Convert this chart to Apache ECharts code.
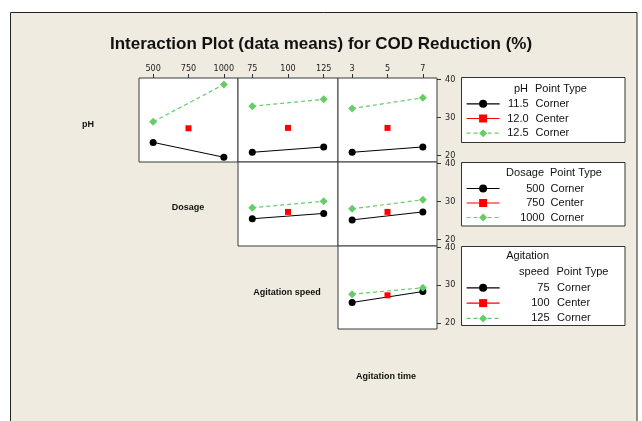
<!DOCTYPE html>
<html><head><meta charset="utf-8">
<script src="https://cdn.jsdelivr.net/npm/echarts@6/dist/echarts.min.js"></script>
<style>html,body{margin:0;padding:0;background:#fff}#c{width:642px;height:421px}</style>
</head><body><div id="c"></div>
<script>
const titleText = 'Interaction Plot (data means) for COD Reduction (%)';
const rowLabels = ['pH', 'Dosage', 'Agitation speed', 'Agitation time'];

const dosageCorners = [500, 1000];
const dosageCenter = 750;
const speedCorners = [75, 125];
const speedCenter = 100;
const timeCorners = [3, 7];
const timeCenter = 5;

const dosageTicks = [500, 750, 1000];
const speedTicks = [75, 100, 125];
const timeTicks = [3, 5, 7];
const yTicks = [20, 30, 40];

const phLevels = ['11.5', '12.0', '12.5'];
const dosageLevels = ['500', '750', '1000'];
const speedLevels = ['75', '100', '125'];
const pointTypes = ['Corner', 'Center', 'Corner'];

// Row 1: pH traces
const ph115VsDosage = [23.5, 19.6];
const ph125VsDosage = [28.9, 38.7];
const ph115VsSpeed = [20.9, 22.3];
const ph125VsSpeed = [33.0, 34.8];
const ph115VsTime = [20.9, 22.3];
const ph125VsTime = [32.4, 35.2];
// Row 2: Dosage traces
const dos500VsSpeed = [25.5, 26.9];
const dos1000VsSpeed = [28.4, 30.1];
const dos500VsTime = [25.2, 27.3];
const dos1000VsTime = [28.1, 30.5];
// Row 3: Agitation speed traces
const spd75VsTime = [25.4, 28.3];
const spd125VsTime = [27.6, 29.3];
// Center point means, one per panel
const centerMeans = [27.2, 27.3, 27.3, 27.3, 27.3, 27.3];

const panels = [
  {row: 0, col: 0, xr: [400, 1100], ticks: dosageTicks, corners: dosageCorners, center: dosageCenter, levels: phLevels, low: ph115VsDosage, high: ph125VsDosage},
  {row: 0, col: 1, xr: [65, 135], ticks: speedTicks, corners: speedCorners, center: speedCenter, levels: phLevels, low: ph115VsSpeed, high: ph125VsSpeed},
  {row: 0, col: 2, xr: [2.2, 7.8], ticks: timeTicks, corners: timeCorners, center: timeCenter, levels: phLevels, low: ph115VsTime, high: ph125VsTime},
  {row: 1, col: 1, xr: [65, 135], ticks: speedTicks, corners: speedCorners, center: speedCenter, levels: dosageLevels, low: dos500VsSpeed, high: dos1000VsSpeed},
  {row: 1, col: 2, xr: [2.2, 7.8], ticks: timeTicks, corners: timeCorners, center: timeCenter, levels: dosageLevels, low: dos500VsTime, high: dos1000VsTime},
  {row: 2, col: 2, xr: [2.2, 7.8], ticks: timeTicks, corners: timeCorners, center: timeCenter, levels: speedLevels, low: spd75VsTime, high: spd125VsTime}
];

const colLeft = [139, 238, 338];
const colWidth = [99, 100, 99];
const rowTop = [78, 162, 246];
const rowHeight = [84, 84, 83];
const BLACK = '#000000', RED = '#ff0000', GREEN = '#66cc66';
const tickFont = "'Liberation Sans Narrow', 'DejaVu Sans Condensed', 'Liberation Sans', sans-serif";
const txtFont = "'Liberation Sans', Arial, sans-serif";

const grid = [], xAxis = [], yAxis = [], series = [];
panels.forEach((p, i) => {
  grid.push({left: colLeft[p.col], top: rowTop[p.row], width: colWidth[p.col], height: rowHeight[p.row],
    show: true, backgroundColor: '#ffffff', borderColor: '#3a3a3a', borderWidth: 1});
  xAxis.push({gridIndex: i, type: 'value', min: p.xr[0], max: p.xr[1], position: 'top',
    axisLine: {show: false}, splitLine: {show: false},
    axisTick: {show: p.row === 0, customValues: p.ticks, length: 4, lineStyle: {color: '#333'}},
    axisLabel: {show: p.row === 0, customValues: p.ticks, margin: 5, fontSize: 9, fontFamily: tickFont, color: '#222',
      formatter: v => String(v)}});
  yAxis.push({gridIndex: i, type: 'value', min: 18.35, max: 40.4, position: 'right',
    axisLine: {show: false}, splitLine: {show: false},
    axisTick: {show: p.col === 2, customValues: yTicks, length: 4, lineStyle: {color: '#333'}},
    axisLabel: {show: p.col === 2, customValues: yTicks, margin: 8, fontSize: 9, fontFamily: tickFont, color: '#222',
      formatter: v => String(v)}});
  series.push({type: 'line', name: p.levels[0], xAxisIndex: i, yAxisIndex: i,
    data: p.corners.map((x, k) => [x, p.low[k]]),
    symbol: 'circle', symbolSize: 7, itemStyle: {color: BLACK}, lineStyle: {color: BLACK, width: 1}, z: 3});
  series.push({type: 'line', name: p.levels[1], xAxisIndex: i, yAxisIndex: i,
    data: [[p.center, centerMeans[i]]],
    symbol: 'rect', symbolSize: 6, itemStyle: {color: RED}, lineStyle: {color: RED, width: 1}, z: 4});
  series.push({type: 'line', name: p.levels[2], xAxisIndex: i, yAxisIndex: i,
    data: p.corners.map((x, k) => [x, p.high[k]]),
    symbol: 'diamond', symbolSize: 8, itemStyle: {color: GREEN}, lineStyle: {color: GREEN, width: 1.2, type: [4, 3]}, z: 5});
});

function makeLegend(levels, top, gap, valWidth, padL) {
  return {
    data: levels, orient: 'vertical', left: 466, top: top, padding: 0,
    itemWidth: 33, itemHeight: 10, itemGap: gap, selectedMode: false,
    lineStyle: {width: 1.2},
    formatter: name => '{v|' + name + '}{t|' + pointTypes[levels.indexOf(name)] + '}',
    textStyle: {fontFamily: txtFont, fontSize: 11, color: '#111', lineHeight: 12,
      rich: {v: {width: valWidth, align: 'right', fontFamily: txtFont, fontSize: 11, lineHeight: 12},
             t: {align: 'right', padding: [0, 0, 0, padL], fontFamily: txtFont, fontSize: 11, lineHeight: 12}}}
  };
}

function txt(text, x, y, align, size, weight) {
  return {type: 'text', z: 10, silent: true,
    style: {text: text, x: x, y: y, align: align, verticalAlign: 'middle',
      fontFamily: txtFont, fontSize: size, fontWeight: weight || 'normal', fill: '#111'}};
}
function box(x, y, w, h) {
  return {type: 'rect', z: 1, silent: true, shape: {x: x, y: y, width: w, height: h},
    style: {fill: '#ffffff', stroke: '#333', lineWidth: 1}};
}

const option = {
  animation: false,
  title: {text: titleText, left: 'center', top: 31,
    textStyle: {fontFamily: txtFont, fontSize: 17, fontWeight: 'bold', color: '#111'}},
  grid: grid, xAxis: xAxis, yAxis: yAxis, series: series,
  legend: [
    makeLegend(phLevels, 97.8, 2.7, 24, 7),
    makeLegend(dosageLevels, 182.5, 2.5, 40, 6),
    makeLegend(speedLevels, 281.8, 3.3, 45, 7.5)
  ],
  graphic: [
    {type: 'rect', z: -10, silent: true, shape: {x: 10.5, y: 12.5, width: 626.5, height: 430},
      style: {fill: '#efebe0', stroke: '#222', lineWidth: 1}},
    box(461.5, 77.5, 163.5, 65),
    box(461.5, 162.5, 163.5, 63.5),
    box(461.5, 246.5, 163.5, 79),
    txt('pH', 528, 88.5, 'right', 11),
    txt('Point Type', 535, 88.5, 'left', 11),
    txt('Dosage', 544, 172.5, 'right', 11),
    txt('Point Type', 550, 172.5, 'left', 11),
    txt('Agitation', 549, 256, 'right', 11),
    txt('speed', 549, 271.5, 'right', 11),
    txt('Point Type', 556.5, 271.5, 'left', 11),
    txt(rowLabels[0], 88, 125, 'center', 9, 'bold'),
    txt(rowLabels[1], 188, 208, 'center', 9, 'bold'),
    txt(rowLabels[2], 287, 293, 'center', 9, 'bold'),
    txt(rowLabels[3], 386, 377, 'center', 9, 'bold')
  ]
};

const chart = echarts.init(document.getElementById('c'), null, {renderer: 'canvas'});
chart.setOption(option);
</script>
</body></html>
